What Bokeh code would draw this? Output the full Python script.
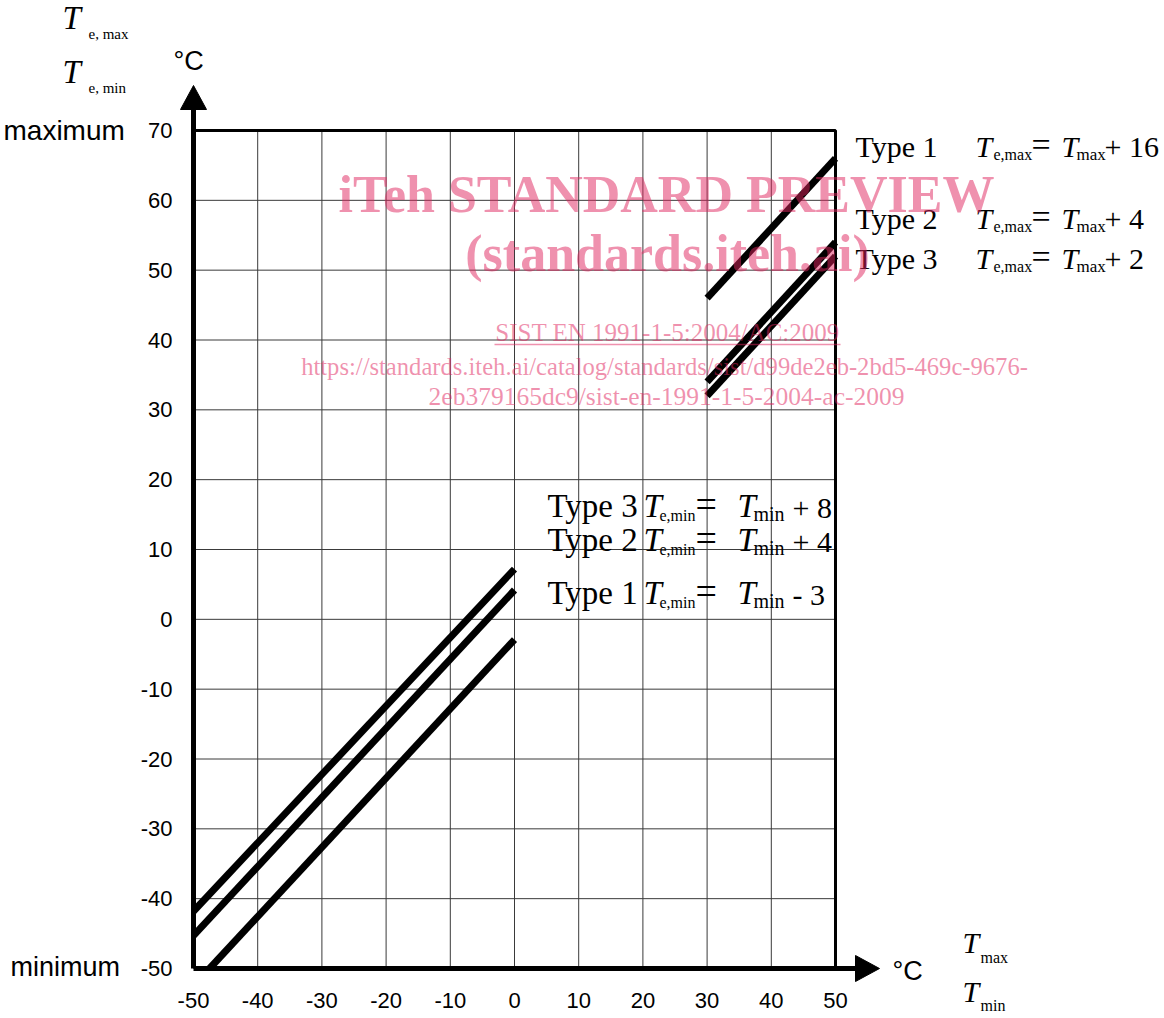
from bokeh.plotting import figure
from bokeh.models import Range1d, Label
from bokeh.core.properties import value
from bokeh.embed import file_html
from bokeh.resources import INLINE

# ---------------- data ----------------
X_TICKS = [-50, -40, -30, -20, -10, 0, 10, 20, 30, 40, 50]
Y_TICKS = [-50, -40, -30, -20, -10, 0, 10, 20, 30, 40, 50, 60, 70]
X_LABELS = [str(t) for t in X_TICKS]
Y_LABELS = [str(t) for t in Y_TICKS]

T_MAX = [30, 50]
TE_MAX_TYPE1 = [46, 66]
TE_MAX_TYPE2 = [34, 54]
TE_MAX_TYPE3 = [32, 52]

T_MIN = [-50, 0]
TE_MIN_TYPE3 = [-41.8, 7.2]
TE_MIN_TYPE2 = [-45.3, 4.2]
T_MIN_TYPE1 = [-47.5, 0]
TE_MIN_TYPE1 = [-50, -2.9]

# ---------------- layout ----------------
W, H = 1160, 1016
FL, FR, FT, FB = 193, 835, 130, 968   # plot box edges in canvas pixels

XMIN, XMAX = X_TICKS[0], X_TICKS[-1]
YMIN, YMAX = Y_TICKS[0], Y_TICKS[-1]

def dx(px):
    return XMIN + (px - FL) * (XMAX - XMIN) / (FR - FL)

def dy(py):
    return YMAX - (py - FT) * (YMAX - YMIN) / (FB - FT)

p = figure(width=W, height=H, output_backend="svg", toolbar_location=None,
           x_range=Range1d(dx(0), dx(W)), y_range=Range1d(dy(H), dy(0)),
           x_axis_location=None, y_axis_location=None, min_border=0)
p.outline_line_color = None
p.grid.visible = False
p.background_fill_color = "white"
p.border_fill_color = "white"

# ---------------- grid ----------------
p.segment(x0=X_TICKS, y0=[YMIN] * len(X_TICKS), x1=X_TICKS, y1=[YMAX] * len(X_TICKS),
          line_color="#3a3a3a", line_width=1)
p.segment(x0=[XMIN] * len(Y_TICKS), y0=Y_TICKS, x1=[XMAX] * len(Y_TICKS), y1=Y_TICKS,
          line_color="#3a3a3a", line_width=1)

# ---------------- data lines ----------------
LW = 7
for ys in (TE_MAX_TYPE1, TE_MAX_TYPE2, TE_MAX_TYPE3):
    p.line(T_MAX, ys, line_width=LW, line_color="black", line_cap="butt")
for ys in (TE_MIN_TYPE3, TE_MIN_TYPE2):
    p.line(T_MIN, ys, line_width=LW, line_color="black", line_cap="butt")
p.line(T_MIN_TYPE1, TE_MIN_TYPE1, line_width=LW, line_color="black", line_cap="butt")

# ---------------- frame & axes ----------------
p.line([XMIN, XMAX, XMAX], [YMAX, YMAX, YMIN], line_color="black", line_width=3)
p.line([XMIN, XMIN], [YMIN, dy(108)], line_color="black", line_width=5)
p.line([XMIN, dx(857)], [YMIN, YMIN], line_color="black", line_width=5)
# arrow heads
p.patch([XMIN, dx(FL - 13), dx(FL + 13)], [dy(85), dy(109), dy(109)], color="black")
p.patch([dx(879), dx(855), dx(855)], [YMIN, dy(FB - 13), dy(FB + 13)], color="black")

# tick labels
p.text(x=[XMIN] * len(Y_TICKS), y=Y_TICKS, text=Y_LABELS, x_offset=-21,
       text_align="right", text_baseline="middle", text_font=value("Liberation Sans"),
       text_font_size="22px", text_color="black")
p.text(x=X_TICKS, y=[YMIN] * len(X_TICKS), text=X_LABELS, y_offset=32,
       text_align="center", text_baseline="middle", text_font=value("Liberation Sans"),
       text_font_size="22px", text_color="black")

# ---------------- texts ----------------
SERIF = "Liberation Serif"
SANS = "Liberation Sans"
SHIFT = 0.37   # label anchor correction (fraction of font size)

def txt(px, base, s, size, font=SERIF, style="normal", align="left", color="black", alpha=1.0):
    p.add_layout(Label(x=dx(px), y=dy(base - SHIFT * size), text=s, text_font=font,
                       text_font_size=f"{size}px", text_font_style=style, text_align=align,
                       text_baseline="alphabetic", text_color=color, text_alpha=alpha))

# axis titles top-left
txt(62, 30, "T", 33, style="italic")
txt(88, 39, "e, max", 15)
txt(62, 84, "T", 33, style="italic")
txt(88, 93, "e, min", 15)
txt(173, 70, "°C", 27, font=SANS)
txt(3, 140, "maximum", 28, font=SANS)
txt(10, 976, "minimum", 27, font=SANS)

# axis titles bottom-right
txt(892, 980, "°C", 27, font=SANS)
txt(962, 953, "T", 30, style="italic")
txt(980, 963, "max", 16)
txt(962, 1002, "T", 30, style="italic")
txt(980, 1011, "min", 16)

def formula(x0, base, typ, sub, sub2, tail, xs, big, small, eq, tailsize, small2):
    txt(x0, base, typ, big)
    txt(xs[0], base, "T", big, style="italic")
    txt(xs[1], base + 3, sub, small)
    txt(xs[2], base, "=", eq)
    txt(xs[3], base, "T", big, style="italic")
    txt(xs[4], base + 3, sub2, small2)
    txt(xs[5], base, tail, tailsize)

XS_MAX = [975, 993, 1031, 1061, 1076, 1104]
formula(855, 157, "Type 1", "e,max", "max", "+ 16", XS_MAX, 30, 16, 34, 30, 17)
formula(855, 229, "Type 2", "e,max", "max", "+ 4", XS_MAX, 30, 16, 34, 30, 17)
formula(855, 269, "Type 3", "e,max", "max", "+ 2", XS_MAX, 30, 16, 34, 30, 17)

XS_MIN = [643, 659, 695, 737, 753, 792]
formula(547, 518, "Type 3", "e,min", "min", "+ 8", XS_MIN, 33, 16, 38, 30, 20)
formula(547, 552, "Type 2", "e,min", "min", "+ 4", XS_MIN, 33, 16, 38, 30, 20)
formula(547, 605, "Type 1", "e,min", "min", "- 3", XS_MIN, 33, 16, 38, 30, 20)

# watermark
WM = "#e0245e"
txt(666, 213, "iTeh STANDARD PREVIEW", 52, style="bold", align="center", color=WM, alpha=0.5)
txt(667, 272, "(standards.iteh.ai)", 52, style="bold", align="center", color=WM, alpha=0.5)
txt(667, 341, "SIST EN 1991-1-5:2004/AC:2009", 25, align="center", color=WM, alpha=0.5)
p.line([dx(494), dx(840)], [dy(344), dy(344)], line_color=WM, line_alpha=0.5, line_width=1.5)
txt(664, 375, "https://standards.iteh.ai/catalog/standards/sist/d99de2eb-2bd5-469c-9676-", 24.6,
    align="center", color=WM, alpha=0.5)
txt(666, 405, "2eb379165dc9/sist-en-1991-1-5-2004-ac-2009", 25.5, align="center", color=WM, alpha=0.5)

open("out.html", "w").write(file_html(p, INLINE))
